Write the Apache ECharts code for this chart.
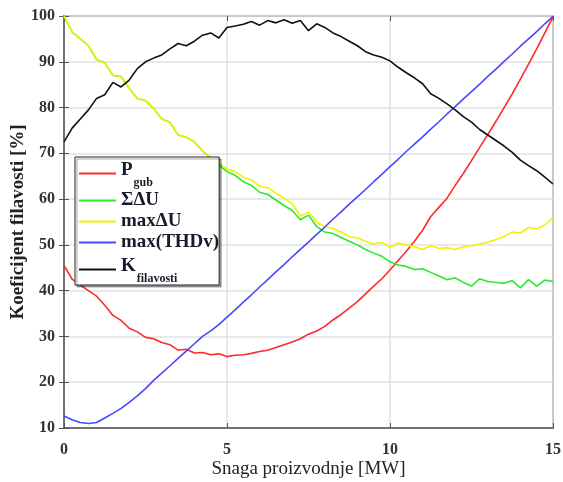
<!DOCTYPE html>
<html>
<head>
<meta charset="utf-8">
<script src="https://cdn.jsdelivr.net/npm/echarts@6/dist/echarts.min.js"></script>
<style>html,body{margin:0;padding:0;background:#fff}#chart{width:563px;height:482px}</style>
</head>
<body>
<div id="chart"></div>
<script>
// snaga proizvodnje [MW]
var snaga = [0,0.25,0.5,0.75,1,1.25,1.5,1.75,2,2.25,2.5,2.75,3,3.25,3.5,3.75,4,4.25,4.5,4.75,
    5,5.25,5.5,5.75,6,6.25,6.5,6.75,7,7.25,7.5,7.75,8,8.25,8.5,8.75,9,9.25,9.5,9.75,
    10,10.25,10.5,10.75,11,11.25,11.5,11.75,12,12.25,12.5,12.75,13,13.25,13.5,13.75,14,14.25,14.5,14.75,15];

var pGub = [45.5,42.5,41.2,40.0,38.8,36.8,34.6,33.5,31.8,31.0,29.8,29.5,28.7,28.2,27.0,27.2,26.4,26.5,26.0,26.2,
    25.6,25.9,26.0,26.3,26.7,27.0,27.6,28.2,28.8,29.5,30.5,31.2,32.2,33.6,34.8,36.2,37.6,39.3,41.0,42.6,
    44.5,46.6,48.6,50.8,53.2,56.2,58.2,60.2,63.0,65.6,68.4,71.3,74.1,77.0,80.0,83.0,86.2,89.5,92.8,96.3,99.8];

var sumDU = [100,96.5,95.0,93.5,90.5,89.8,87.0,86.8,84.2,82.0,81.5,79.8,77.5,76.8,74.0,73.5,72.5,70.5,69.0,67.5,
    66.0,65.2,63.8,63.0,61.5,61.0,59.8,58.6,57.5,55.5,56.5,54.0,52.8,52.5,51.6,50.8,50.0,49.0,48.2,47.5,
    46.3,45.6,45.3,44.6,44.8,44.0,43.2,42.4,42.8,41.8,41.0,42.6,42.0,41.8,41.6,42.2,40.6,42.4,41.0,42.3,42.0];

var maxDU = [100,96.5,95.0,93.5,90.5,89.8,87.0,86.8,84.2,82.0,81.5,79.8,77.5,76.8,74.0,73.5,72.5,70.5,69.2,68.0,
    66.5,66.0,64.8,64.2,62.8,62.5,61.3,60.2,59.0,56.3,57.2,55.0,54.0,53.6,52.8,51.8,51.5,50.8,50.2,50.5,
    49.5,50.4,50.0,49.6,49.0,49.8,49.2,49.4,49.0,49.6,49.8,50.2,50.6,51.2,51.8,52.8,52.6,53.8,53.5,54.4,55.9];

var maxTHDv = [12.6,11.8,11.2,11.0,11.2,12.2,13.2,14.3,15.6,17.0,18.6,20.4,22.0,23.6,25.2,26.8,28.4,30.0,31.2,32.6,
    34.2,35.8,37.5,39.1,40.8,42.4,44.1,45.7,47.4,49.0,50.6,52.3,53.9,55.6,57.2,58.9,60.5,62.1,63.8,65.4,
    67.1,68.7,70.4,72.0,73.6,75.3,76.9,78.6,80.2,81.9,83.5,85.1,86.8,88.4,90.1,91.7,93.4,95.0,96.6,98.3,99.9];

var kFil = [72.5,75.5,77.5,79.5,82.0,82.8,85.5,84.5,86.0,88.5,90.0,90.8,91.5,92.8,94.0,93.5,94.5,95.8,96.3,95.2,
    97.5,97.8,98.2,98.8,98.0,99.0,98.5,99.2,98.4,99.0,96.8,98.3,97.5,96.3,95.5,94.5,93.5,92.2,91.5,91.0,
    90.2,88.8,87.6,86.5,85.2,83.0,82.0,80.8,79.5,78.0,76.8,75.2,74.0,72.8,71.6,70.2,68.5,67.3,66.2,64.8,63.3];

var xTicks = [0, 5, 10, 15];
var yTicks = [10, 20, 30, 40, 50, 60, 70, 80, 90, 100];

var legendText = {
    'Pgub': '{p|P}{s|gub}',
    'ΣΔU': '{b|ΣΔU}',
    'maxΔU': '{b|maxΔU}',
    'max(THDv)': '{b|max(THDv)}',
    'Kfilavosti': '{p|K}{s|filavosti}'
};

function pairs(ys){
    return snaga.map(function(x, i){ return [x, ys[i]]; });
}

var serif = 'Liberation Serif';
var chart = echarts.init(document.getElementById('chart'));

function lineSeries(name, data, color){
    return {
        name: name,
        type: 'line',
        data: pairs(data),
        showSymbol: false,
        symbol: 'none',
        lineStyle: {color: color, width: 1.6},
        itemStyle: {color: color},
        animation: false
    };
}

var option = {
    animation: false,
    grid: {left: 64, right: 10, top: 16, bottom: 54, outerBoundsMode: 'none', containLabel: false,
        show: true, borderColor: '#555', borderWidth: 1.5},
    legend: {
        orient: 'vertical',
        left: 75,
        top: 157,
        itemWidth: 37,
        itemHeight: 12,
        itemGap: 2,
        backgroundColor: '#fff',
        borderColor: '#222',
        borderWidth: 1,
        padding: [1, 0, 0, 3],
        shadowColor: 'rgba(0,0,0,0.35)',
        shadowOffsetX: 2,
        shadowOffsetY: 2,
        itemStyle: {opacity: 0},
        data: ['Pgub', 'ΣΔU', 'maxΔU', 'max(THDv)', 'Kfilavosti'],
        formatter: function(n){ return legendText[n]; },
        textStyle: {
            fontFamily: serif,
            color: '#1a1a2a',
            rich: {
                b: {fontFamily: serif, fontSize: 19, fontWeight: 'bold', color: '#1a1a2a', lineHeight: 19},
                p: {fontFamily: serif, fontSize: 19, fontWeight: 'bold', color: '#1a1a2a', lineHeight: 19, padding: [3, 0, 9, 0]},
                s: {fontFamily: serif, fontSize: 12, fontWeight: 'bold', color: '#1a1a2a', lineHeight: 12, padding: [19, 0, 0, 1]}
            }
        }
    },
    xAxis: [{
        type: 'value',
        min: 0, max: 15, interval: 5,
        name: 'Snaga proizvodnje [MW]',
        nameLocation: 'middle',
        nameGap: 32,
        nameMoveOverlap: false,
        nameTextStyle: {fontFamily: serif, fontSize: 19, color: '#222'},
        axisLine: {lineStyle: {color: '#555', width: 1.5}},
        axisTick: {inside: true, length: 5, lineStyle: {color: '#555'}},
        axisLabel: {fontFamily: serif, fontSize: 16, fontWeight: 'bold', color: '#333', margin: 14,
            formatter: function(v){ return xTicks.indexOf(v) >= 0 ? v : ''; }},
        splitLine: {show: true, lineStyle: {color: '#e2e2e2', width: 1.5}}
    }, {
        type: 'value', position: 'top',
        min: 0, max: 15, interval: 5,
        axisLine: {show: false},
        axisTick: {inside: true, length: 5, lineStyle: {color: '#555'}},
        axisLabel: {show: false},
        splitLine: {show: false}
    }],
    yAxis: [{
        type: 'value',
        min: 10, max: 100, interval: 10,
        name: 'Koeficijent filavosti [%]',
        nameLocation: 'middle',
        nameGap: 36,
        nameMoveOverlap: false,
        nameTextStyle: {fontFamily: serif, fontSize: 19, fontWeight: 'bold', color: '#222'},
        axisLine: {show: true, lineStyle: {color: '#555', width: 1.5}},
        axisTick: {show: true, inside: true, length: 5, lineStyle: {color: '#555'}},
        axisLabel: {fontFamily: serif, fontSize: 16, fontWeight: 'bold', color: '#333', margin: 9,
            formatter: function(v){ return yTicks.indexOf(v) >= 0 ? v : ''; }},
        splitLine: {show: true, lineStyle: {color: '#e2e2e2', width: 1.5}}
    }, {
        type: 'value', position: 'right',
        min: 10, max: 100, interval: 10,
        axisLine: {show: false},
        axisTick: {show: true, inside: true, length: 5, lineStyle: {color: '#555'}},
        axisLabel: {show: false},
        splitLine: {show: false}
    }],
    series: [
        lineSeries('Pgub', pGub, '#ff2a2a'),
        lineSeries('ΣΔU', sumDU, '#2ee82e'),
        lineSeries('maxΔU', maxDU, '#f2f200'),
        lineSeries('max(THDv)', maxTHDv, '#4848ff'),
        lineSeries('Kfilavosti', kFil, '#111111')
    ]
};

chart.setOption(option);
</script>
</body>
</html>
